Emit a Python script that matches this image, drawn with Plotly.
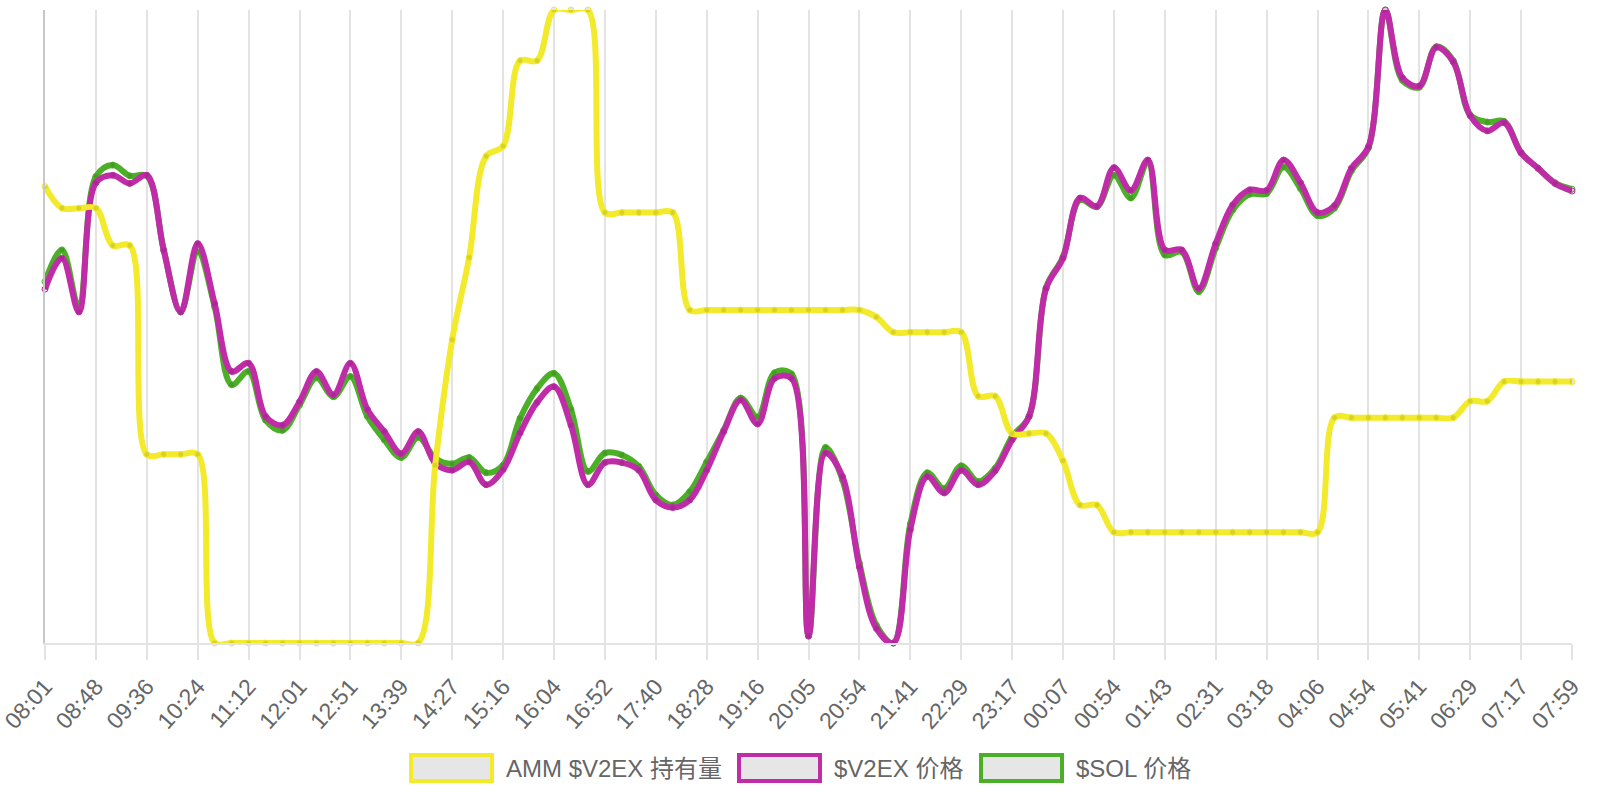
import plotly.graph_objects as go

# ---------------- data ----------------
tick_labels = ["08:01", "08:48", "09:36", "10:24", "11:12", "12:01", "12:51", "13:39",
               "14:27", "15:16", "16:04", "16:52", "17:40", "18:28", "19:16", "20:05",
               "20:54", "21:41", "22:29", "23:17", "00:07", "00:54", "01:43", "02:31",
               "03:18", "04:06", "04:54", "05:41", "06:29", "07:17", "07:59"]

# AMM $V2EX holdings (relative index, 0-100)
amm_holdings = [72.1, 68.7, 68.7, 68.7, 62.8, 62.8, 29.8, 29.8, 29.8, 29.8,
                0, 0, 0, 0, 0, 0, 0, 0, 0, 0, 0, 0, 0,
                28.1, 47.9, 60.9, 76.9, 78.5, 92.0, 92.0, 100, 100, 100,
                68.0, 68.0, 68.0, 68.0, 68.0,
                52.6, 52.6, 52.6, 52.6, 52.6, 52.6, 52.6, 52.6, 52.6, 52.6, 52.6,
                51.5, 49.1, 49.1, 49.1, 49.1, 49.1,
                39.0, 39.0, 33.1, 33.1, 33.1, 28.8, 21.8, 21.8,
                17.5, 17.5, 17.5, 17.5, 17.5, 17.5, 17.5, 17.5, 17.5, 17.5, 17.5, 17.5, 17.5,
                35.6, 35.6, 35.6, 35.6, 35.6, 35.6, 35.6, 35.6,
                38.2, 38.2, 41.3, 41.3, 41.3, 41.3, 41.3]

# $V2EX price (relative index, 0-100)
v2ex_price = [55.9, 60.8, 52.3, 72.7, 73.9, 72.6, 73.9, 62.0, 52.3, 63.1,
              53.6, 42.9, 44.2, 35.8, 34.4, 38.1, 42.9, 39.2, 44.2, 36.9,
              33.4, 29.9, 33.4, 28.4, 27.3, 28.6, 25.0, 27.4, 33.2, 38.0,
              40.5, 34.4, 25.0, 28.5, 28.5, 27.3, 22.6, 21.4, 22.6, 27.3,
              33.4, 38.4, 34.6, 41.8, 41.8, 1.1, 30.0, 26.3, 12.0, 2.3,
              0.0, 17.9, 26.3, 23.7, 27.3, 25.0, 27.2, 32.1, 35.8, 56.0,
              60.8, 70.3, 69.0, 75.1, 71.5, 76.3, 62.1, 62.1, 56.0, 63.1,
              69.2, 71.6, 71.5, 76.3, 72.7, 68.0, 69.1, 75.0, 78.4, 100.0,
              89.3, 88.0, 94.1, 91.8, 83.3, 80.9, 82.2, 77.4, 75.0, 72.6, 71.4]

# $SOL price (relative index, 0-100)
sol_price = [57.1, 62.1, 52.9, 73.7, 75.5, 73.8, 73.8, 62.1, 52.3, 61.8,
             53.1, 40.8, 42.9, 35.2, 33.6, 37.6, 41.9, 38.9, 42.1, 35.8,
             32.1, 29.3, 32.5, 29.2, 28.3, 29.3, 26.9, 28.1, 35.5, 40.2,
             42.6, 36.9, 27.1, 30.0, 29.7, 27.9, 23.4, 21.8, 23.9, 28.6,
             33.6, 38.7, 35.7, 42.7, 42.5, 1.1, 30.9, 25.8, 12.6, 2.8,
             0.0, 18.8, 26.9, 24.4, 28.0, 25.5, 27.6, 32.6, 35.8, 56.1,
             61.0, 70.0, 68.9, 73.9, 70.3, 76.0, 61.3, 61.8, 55.5, 62.4,
             68.4, 70.9, 71.0, 75.2, 71.8, 67.5, 68.7, 74.6, 78.2, 100.0,
             88.9, 87.8, 94.2, 92.0, 83.4, 82.3, 82.4, 77.5, 75.0, 72.7, 71.7]

series_names = ["AMM $V2EX 持有量", "$V2EX 价格", "$SOL 价格"]

# ---------------- style ----------------
YELLOW = "#f2ea2a"
MAGENTA = "#c02ca8"
GREEN = "#4caf28"
FONT = "Liberation Sans, Arial, Noto Sans CJK SC, sans-serif"

n = len(amm_holdings)
x = list(range(n))


def make_trace(vals, color, name, yaxis):
    return go.Scatter(
        x=x, y=vals, name=name, yaxis=yaxis, mode="lines+markers",
        line=dict(color=color, width=6, shape="spline", smoothing=1.0),
        marker=dict(size=6, color="rgba(0,0,0,0.1)", line=dict(color=color, width=1)),
        cliponaxis=False, showlegend=False, hoverinfo="x+y+name",
    )


fig = go.Figure()
fig.add_trace(make_trace(sol_price, GREEN, series_names[2], "y"))
fig.add_trace(make_trace(v2ex_price, MAGENTA, series_names[1], "y2"))
fig.add_trace(make_trace(amm_holdings, YELLOW, series_names[0], "y3"))

L, R, T, B = 45, 28, 10, 157
W, H = 1600, 800
PW, PH = W - L - R, H - T - B


def px_x(px):
    return (px - L) / PW


def px_y(py):
    return (H - B - py) / PH


# custom legend (boxes like the reference)
legend_items = [(409, YELLOW, series_names[0]),
                (737, MAGENTA, series_names[1]),
                (979, GREEN, series_names[2])]
shapes = []
annotations = []
for bx, col, label in legend_items:
    shapes.append(dict(type="rect", xref="paper", yref="paper",
                       x0=px_x(bx + 2), x1=px_x(bx + 83),
                       y0=px_y(755), y1=px_y(781),
                       line=dict(color=col, width=4), fillcolor="#e6e6e6", layer="above"))
    annotations.append(dict(xref="paper", yref="paper", x=px_x(bx + 95), y=px_y(768),
                            text=label, showarrow=False, xanchor="left", yanchor="middle",
                            font=dict(family=FONT, size=24, color="#666666")))

fig.update_layout(
    width=W, height=H,
    margin=dict(l=L, r=R, t=T, b=B),
    plot_bgcolor="white", paper_bgcolor="white",
    showlegend=False,
    font=dict(family=FONT, color="#666666"),
    xaxis=dict(range=[0, n - 1], tickmode="array", tickvals=x[::3], ticktext=tick_labels,
               tickangle=-48, tickfont=dict(family=FONT, size=23, color="#666666"),
               ticklabeloverflow="allow", automargin=False, ticklabelstandoff=4,
               showgrid=True, gridcolor="#e3e3e3", gridwidth=2,
               ticks="outside", ticklen=15, tickwidth=2, tickcolor="#e3e3e3",
               showline=True, linecolor="#e3e3e3", linewidth=2, zeroline=False),
    yaxis=dict(range=[0, 100], showticklabels=False, showgrid=False, zeroline=False,
               showline=True, linecolor="#c8c8c8", linewidth=2, ticks=""),
    yaxis2=dict(range=[0, 100], overlaying="y", visible=False),
    yaxis3=dict(range=[0, 100], overlaying="y", visible=False),
    shapes=shapes,
    annotations=annotations,
)

fig.write_html("out.html")
